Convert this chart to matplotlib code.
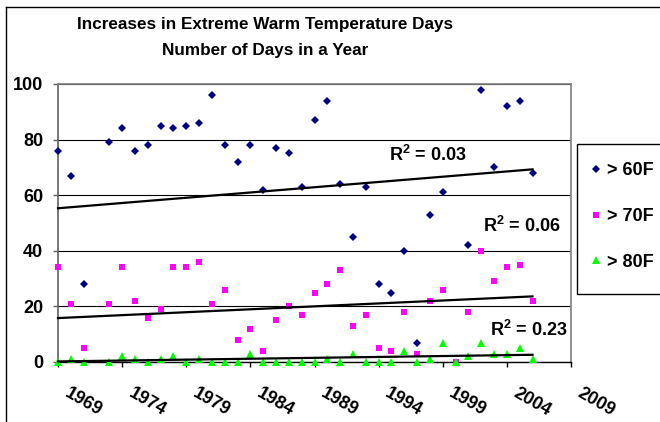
import matplotlib
matplotlib.use("Agg")
import matplotlib.pyplot as plt
from matplotlib.transforms import ScaledTranslation
from matplotlib.lines import Line2D
from matplotlib.patches import Rectangle

plt.rcParams['font.family'] = ['Liberation Sans', 'DejaVu Sans']
plt.rcParams['font.weight'] = 'bold'
plt.rcParams['mathtext.fontset'] = 'custom'
plt.rcParams['mathtext.rm'] = 'Liberation Sans:bold'
plt.rcParams['mathtext.bf'] = 'Liberation Sans:bold'

# Days per year above each threshold (1972 not recorded; no >60F value for 2000)
years_60 = [1969, 1970, 1971, 1973, 1974, 1975, 1976, 1977, 1978, 1979,
            1980, 1981, 1982, 1983, 1984, 1985, 1986, 1987, 1988, 1989,
            1990, 1991, 1992, 1993, 1994, 1995, 1996, 1997, 1998, 1999,
            2001, 2002, 2003, 2004, 2005, 2006]
days_60 = [76, 67, 28, 79, 84, 76, 78, 85, 84, 85,
           86, 96, 78, 72, 78, 62, 77, 75, 63, 87,
           94, 64, 45, 63, 28, 25, 40, 7, 53, 61,
           42, 98, 70, 92, 94, 68]

years = [1969, 1970, 1971, 1973, 1974, 1975, 1976, 1977, 1978, 1979,
         1980, 1981, 1982, 1983, 1984, 1985, 1986, 1987, 1988, 1989,
         1990, 1991, 1992, 1993, 1994, 1995, 1996, 1997, 1998, 1999,
         2000, 2001, 2002, 2003, 2004, 2005, 2006]
days_70 = [34, 21, 5, 21, 34, 22, 16, 19, 34, 34,
           36, 21, 26, 8, 12, 4, 15, 20, 17, 25,
           28, 33, 13, 17, 5, 4, 18, 3, 22, 26,
           0, 18, 40, 29, 34, 35, 22]
days_80 = [0, 1, 0, 0, 2, 1, 0, 1, 2, 0,
           1, 0, 0, 0, 3, 0, 0, 0, 0, 0,
           1, 0, 3, 0, 0, 0, 4, 0, 1, 7,
           0, 2, 7, 3, 3, 5, 1]

# Linear trend lines (start / end of the fitted period)
trend_years = [1969, 2006]
trend_60 = [55.3, 69.3]
trend_70 = [15.8, 23.6]
trend_80 = [0.2, 2.6]

series_labels = ['> 60F', '> 70F', '> 80F']
r2_labels = [r'R$^{2}$ = 0.03', r'R$^{2}$ = 0.06', r'R$^{2}$ = 0.23']
x_ticks = list(range(1969, 2010, 5))
y_ticks = list(range(0, 101, 20))

W, H = 660, 422
fig = plt.figure(figsize=(W / 100, H / 100), dpi=100)
fig.patch.set_facecolor('white')

ax = fig.add_axes([58 / W, 1 - 362 / H, (571 - 58) / W, (362 - 84) / H])
ax.set_xlim(1969, 2009)
ax.set_ylim(0, 100)
ax.set_xticks(x_ticks)
ax.set_yticks(y_ticks)
ax.yaxis.grid(True, color='black', lw=0.8)
ax.set_axisbelow(True)

for side in ('top', 'right'):
    ax.spines[side].set_color('#808080')
    ax.spines[side].set_linewidth(1.2)
ax.spines['left'].set_color('#606060')
ax.spines['left'].set_linewidth(1.2)
ax.spines['bottom'].set_color('black')
ax.spines['bottom'].set_linewidth(1.0)

ax.tick_params(axis='y', direction='out', length=3.6, width=1, color='#606060',
               pad=7, labelsize=13)
ax.tick_params(axis='x', direction='out', length=3.6, width=1, color='black',
               pad=13, labelsize=13)
ax.set_xticklabels([str(y) for y in x_ticks])
for lab in ax.get_xticklabels():
    lab.set_rotation(-30)
    lab.set_ha('left')
    lab.set_va('top')
    lab.set_rotation_mode('anchor')
    lab.set_transform(lab.get_transform() + ScaledTranslation(0.12, 0, fig.dpi_scale_trans))

h60, = ax.plot(years_60, days_60, ls='none', marker='D', ms=3.9, mew=0,
               color='#000080', clip_on=False, zorder=3)
h70, = ax.plot(years, days_70, ls='none', marker='s', ms=5.0, mew=0,
               color='#FF00FF', clip_on=False, zorder=3)
h80, = ax.plot(years, days_80, ls='none', marker='^', ms=5.6, mew=0,
               color='#00FF00', clip_on=False, zorder=3)

for tr in (trend_60, trend_70, trend_80):
    ax.plot(trend_years, tr, color='black', lw=1.6, zorder=4, clip_on=False)

r2_pos = [(1997.8, 72.3), (2005.2, 46.8), (2005.7, 9.4)]
for (x, y), txt in zip(r2_pos, r2_labels):
    ax.text(x, y, txt, ha='center', va='baseline', fontsize=13,
            fontweight='bold', zorder=5)

# Chart title
fig.text(265 / W, 1 - 29.5 / H, 'Increases in Extreme Warm Temperature Days',
         ha='center', va='baseline', fontsize=12.3, fontweight='bold')
fig.text(265 / W, 1 - 54.5 / H, 'Number of Days in a Year',
         ha='center', va='baseline', fontsize=12.3, fontweight='bold')

# Legend
fig.add_artist(Rectangle((577 / W, 1 - 294 / H), (680 - 577) / W, (294 - 144) / H,
                         transform=fig.transFigure, fill=False, ec='black', lw=1))
fig.legend([h60, h70, h80], series_labels, loc='upper left',
           bbox_to_anchor=(587 / W, 1 - 162 / H), frameon=False,
           fontsize=13, labelspacing=1.6, handlelength=1.0, handletextpad=0.1,
           borderpad=0, borderaxespad=0, markerscale=1.0)

# Chart area border
fig.add_artist(Line2D([6.5 / W, 6.5 / W], [0, 1 - 6.5 / H], transform=fig.transFigure,
                      color='black', lw=1))
fig.add_artist(Line2D([6.5 / W, 1], [1 - 6.5 / H, 1 - 6.5 / H], transform=fig.transFigure,
                      color='black', lw=1))

fig.savefig('out.png', dpi=100)
